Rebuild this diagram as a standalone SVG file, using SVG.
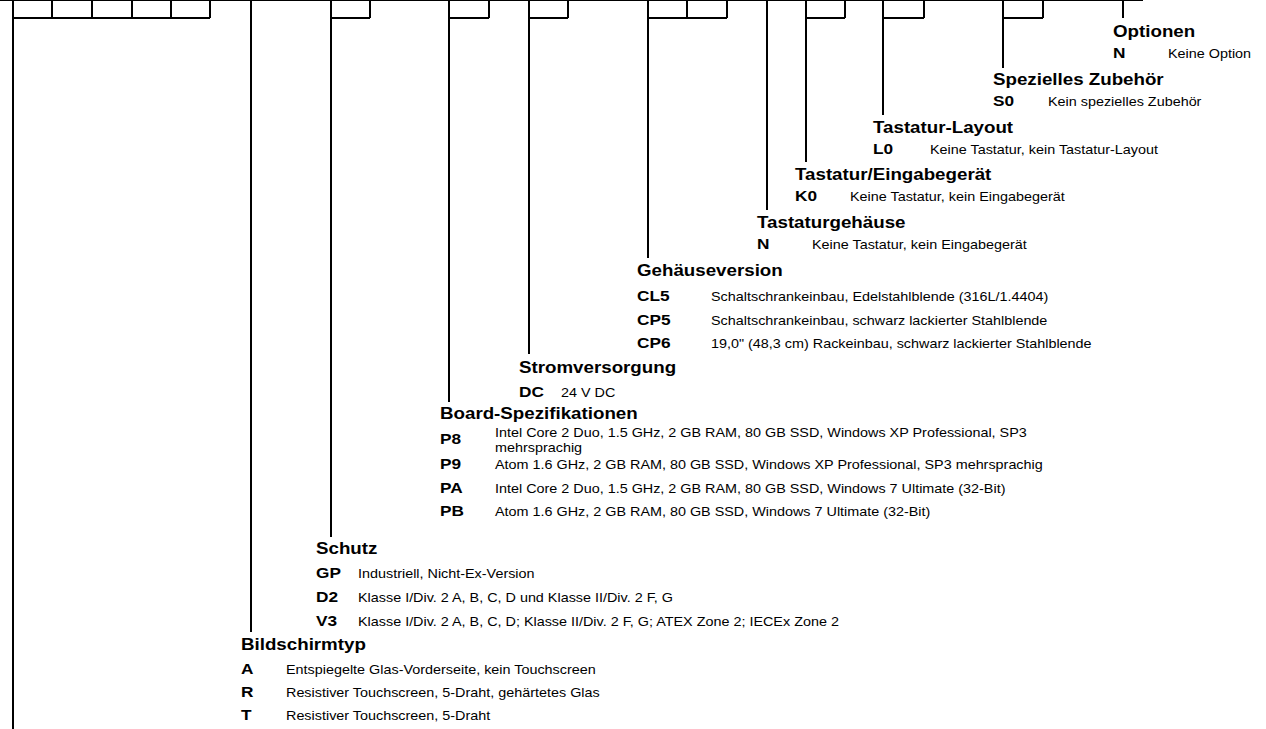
<svg xmlns="http://www.w3.org/2000/svg" width="1266" height="729" viewBox="0 0 1266 729">
<style>
.ln{fill:none;stroke:#000;stroke-width:2}
.h{font-family:"Liberation Sans",Arial,sans-serif;font-weight:bold;font-size:16.3px;fill:#000}
.c{font-family:"Liberation Sans",Arial,sans-serif;font-weight:bold;font-size:15px;fill:#000}
.d{font-family:"Liberation Sans",Arial,sans-serif;font-size:12.5px;fill:#000}
</style>
<rect width="1266" height="729" fill="#fff"/>
<g id="connectors">
<path class="ln" d="M0,0 H1143"/>
<path class="ln" d="M13,0 V729 M52,0 V18 M92,0 V18 M132,0 V18 M171,0 V18 M210,0 V18 M13,18 H210"/>
<path class="ln" d="M251,0 V632"/>
<path class="ln" d="M331,0 V537 M370,0 V18 M331,18 H370"/>
<path class="ln" d="M449,0 V402 M489,0 V18 M449,18 H489"/>
<path class="ln" d="M529,0 V354 M568,0 V18 M529,18 H568"/>
<path class="ln" d="M648,0 V258 M687,0 V18 M727,0 V18 M648,18 H727"/>
<path class="ln" d="M767,0 V210"/>
<path class="ln" d="M806,0 V162 M845,0 V18 M806,18 H845"/>
<path class="ln" d="M883,0 V115 M924,0 V18 M883,18 H924"/>
<path class="ln" d="M1003,0 V68 M1043,0 V18 M1003,18 H1043"/>
<path class="ln" d="M1123,0 V18"/>
</g>
<g id="optionen">
<text class="h" transform="matrix(1.15,0,0,1,1113,37)">Optionen</text>
<text class="c" transform="matrix(1.15,0,0,1,1113,58)">N</text><text class="d" transform="matrix(1.15,0,0,1,1168,58)">Keine Option</text>
</g>
<g id="zubehoer">
<text class="h" transform="matrix(1.15,0,0,1,993,85)">Spezielles Zubehör</text>
<text class="c" transform="matrix(1.15,0,0,1,993,106)">S0</text><text class="d" transform="matrix(1.15,0,0,1,1048,106)">Kein spezielles Zubehör</text>
</g>
<g id="tastatur-layout">
<text class="h" transform="matrix(1.15,0,0,1,873,133)">Tastatur-Layout</text>
<text class="c" transform="matrix(1.15,0,0,1,873,154)">L0</text><text class="d" transform="matrix(1.15,0,0,1,930,154)">Keine Tastatur, kein Tastatur-Layout</text>
</g>
<g id="tastatur-eingabe">
<text class="h" transform="matrix(1.15,0,0,1,795,180)">Tastatur/Eingabegerät</text>
<text class="c" transform="matrix(1.15,0,0,1,795,201)">K0</text><text class="d" transform="matrix(1.15,0,0,1,850,201)">Keine Tastatur, kein Eingabegerät</text>
</g>
<g id="tastaturgehaeuse">
<text class="h" transform="matrix(1.15,0,0,1,757,228)">Tastaturgehäuse</text>
<text class="c" transform="matrix(1.15,0,0,1,757,249)">N</text><text class="d" transform="matrix(1.15,0,0,1,812,249)">Keine Tastatur, kein Eingabegerät</text>
</g>
<g id="gehaeuseversion">
<text class="h" transform="matrix(1.15,0,0,1,637,276)">Gehäuseversion</text>
<text class="c" transform="matrix(1.15,0,0,1,637,301)">CL5</text><text class="d" transform="matrix(1.15,0,0,1,711,301)">Schaltschrankeinbau, Edelstahlblende (316L/1.4404)</text>
<text class="c" transform="matrix(1.15,0,0,1,637,325)">CP5</text><text class="d" transform="matrix(1.15,0,0,1,711,325)">Schaltschrankeinbau, schwarz lackierter Stahlblende</text>
<text class="c" transform="matrix(1.15,0,0,1,637,348)">CP6</text><text class="d" transform="matrix(1.15,0,0,1,711,348)">19,0" (48,3 cm) Rackeinbau, schwarz lackierter Stahlblende</text>
</g>
<g id="stromversorgung">
<text class="h" transform="matrix(1.15,0,0,1,519,373)">Stromversorgung</text>
<text class="c" transform="matrix(1.15,0,0,1,519,397)">DC</text><text class="d" transform="matrix(1.15,0,0,1,561,397)">24 V DC</text>
</g>
<g id="board">
<text class="h" transform="matrix(1.15,0,0,1,440,419)">Board-Spezifikationen</text>
<text class="c" transform="matrix(1.15,0,0,1,440,444)">P8</text>
<text class="d" transform="matrix(1.15,0,0,1,495,437)">Intel Core 2 Duo, 1.5 GHz, 2 GB RAM, 80 GB SSD, Windows XP Professional, SP3</text>
<text class="d" transform="matrix(1.15,0,0,1,495,452)">mehrsprachig</text>
<text class="c" transform="matrix(1.15,0,0,1,440,469)">P9</text><text class="d" transform="matrix(1.15,0,0,1,495,469)">Atom 1.6 GHz, 2 GB RAM, 80 GB SSD, Windows XP Professional, SP3 mehrsprachig</text>
<text class="c" transform="matrix(1.15,0,0,1,440,493)">PA</text><text class="d" transform="matrix(1.15,0,0,1,495,493)">Intel Core 2 Duo, 1.5 GHz, 2 GB RAM, 80 GB SSD, Windows 7 Ultimate (32-Bit)</text>
<text class="c" transform="matrix(1.15,0,0,1,440,516)">PB</text><text class="d" transform="matrix(1.15,0,0,1,495,516)">Atom 1.6 GHz, 2 GB RAM, 80 GB SSD, Windows 7 Ultimate (32-Bit)</text>
</g>
<g id="schutz">
<text class="h" transform="matrix(1.15,0,0,1,316,554)">Schutz</text>
<text class="c" transform="matrix(1.15,0,0,1,316,578)">GP</text><text class="d" transform="matrix(1.15,0,0,1,358,578)">Industriell, Nicht-Ex-Version</text>
<text class="c" transform="matrix(1.15,0,0,1,316,602)">D2</text><text class="d" transform="matrix(1.15,0,0,1,358,602)">Klasse I/Div. 2 A, B, C, D und Klasse II/Div. 2 F, G</text>
<text class="c" transform="matrix(1.15,0,0,1,316,626)">V3</text><text class="d" transform="matrix(1.15,0,0,1,358,626)">Klasse I/Div. 2 A, B, C, D; Klasse II/Div. 2 F, G; ATEX Zone 2; IECEx Zone 2</text>
</g>
<g id="bildschirmtyp">
<text class="h" transform="matrix(1.15,0,0,1,241,650)">Bildschirmtyp</text>
<text class="c" transform="matrix(1.15,0,0,1,241,674)">A</text><text class="d" transform="matrix(1.15,0,0,1,286,674)">Entspiegelte Glas-Vorderseite, kein Touchscreen</text>
<text class="c" transform="matrix(1.15,0,0,1,241,697)">R</text><text class="d" transform="matrix(1.15,0,0,1,286,697)">Resistiver Touchscreen, 5-Draht, gehärtetes Glas</text>
<text class="c" transform="matrix(1.15,0,0,1,241,720)">T</text><text class="d" transform="matrix(1.15,0,0,1,286,720)">Resistiver Touchscreen, 5-Draht</text>
</g>
</svg>
